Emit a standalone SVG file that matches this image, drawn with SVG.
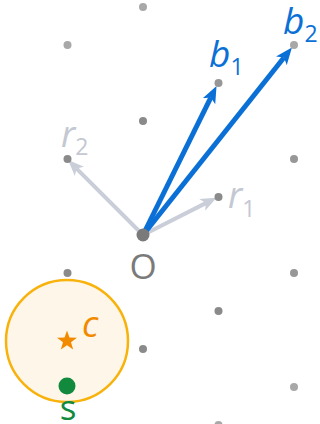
<svg xmlns="http://www.w3.org/2000/svg" width="320" height="424" viewBox="0 0 320 424">
<style>
text{font-family:"Open Sans","Noto Sans","DejaVu Sans",sans-serif;}
.pt{fill:#8a8a8a;}
.pt2{fill:#979797;}
.pt3{fill:#a8a8a8;}
.blue{stroke:#0b70d6;stroke-width:5;fill:none;}
.gray{stroke:#c9ced9;stroke-width:4;fill:none;}
.lb{fill:#0b70d6;font-size:37px;}
.lg{fill:#c3c8d2;font-size:36px;}
.sub{font-size:23px;font-style:normal;}
</style>
<defs>
<marker id="hb" viewBox="0 0 16 13" refX="4" refY="6.5" markerUnits="strokeWidth" markerWidth="3.4" markerHeight="2.76" orient="auto"><path d="M0,0 L16,6.5 L0,13 L4,6.5 z" fill="#0b70d6"/></marker>
<marker id="hg" viewBox="0 0 16 13" refX="4" refY="6.5" markerUnits="strokeWidth" markerWidth="4" markerHeight="3.25" orient="auto"><path d="M0,0 L16,6.5 L0,13 L4,6.5 z" fill="#c9ced9"/></marker>
</defs>
<g id="region">
<circle cx="67" cy="341" r="61" fill="#fef6e8" stroke="#f8b20c" stroke-width="2.5"/>
</g>
<g id="connectors">
<line class="gray" x1="143" y1="235" x2="205.8" y2="203.1" marker-end="url(#hg)"/>
<line class="gray" x1="143" y1="235" x2="76.6" y2="168.6" marker-end="url(#hg)"/>
<line class="blue" x1="143" y1="235" x2="210.9" y2="97.4" marker-end="url(#hb)"/>
<line class="blue" x1="143" y1="235" x2="284.0" y2="57.5" marker-end="url(#hb)"/>
</g>
<g id="lattice">
<circle class="pt3" cx="143" cy="7" r="4"/>
<circle class="pt3" cx="67.5" cy="45" r="4"/>
<circle class="pt3" cx="294" cy="45" r="4"/>
<circle class="pt2" cx="218.5" cy="83" r="4"/>
<circle class="pt" cx="143" cy="121" r="4"/>
<circle class="pt" cx="67.5" cy="159" r="4"/>
<circle class="pt2" cx="294" cy="159" r="4"/>
<circle class="pt" cx="218.5" cy="197" r="4"/>
<circle class="pt" cx="67.5" cy="273" r="4"/>
<circle class="pt2" cx="294" cy="273" r="4"/>
<circle class="pt" cx="218.5" cy="311" r="4"/>
<circle class="pt" cx="143" cy="349" r="4"/>
<circle class="pt3" cx="294" cy="387" r="4"/>
<circle class="pt3" cx="218.5" cy="425" r="4"/>
</g>
<g id="O">
<circle cx="143" cy="235" r="6.5" fill="#7a7a7a"/>
<text x="143" y="279" text-anchor="middle" font-size="35" fill="#7a7a7a">O</text>
</g>
<g id="b1"><text class="lb" x="209" y="67"><tspan font-style="italic">b</tspan><tspan class="sub" dy="8">1</tspan></text></g>
<g id="b2"><text class="lb" x="283" y="34"><tspan font-style="italic">b</tspan><tspan class="sub" dy="8">2</tspan></text></g>
<g id="r1"><text class="lg" x="228" y="208"><tspan font-style="italic">r</tspan><tspan class="sub" dy="9">1</tspan></text></g>
<g id="r2"><text class="lg" x="61" y="147"><tspan font-style="italic">r</tspan><tspan class="sub" dy="8">2</tspan></text></g>
<g id="c">
<polygon points="67,330.5 69.47,337.6 76.99,337.76 70.99,342.3 73.17,349.49 67,345.2 60.83,349.49 63.01,342.3 57.01,337.76 64.53,337.6" fill="#f28a00"/>
<text x="82" y="337" font-size="36" font-style="italic" fill="#f28a00">c</text>
</g>
<g id="s">
<circle cx="67" cy="386" r="8.5" fill="#128a3e"/>
<text x="68" y="420" text-anchor="middle" font-size="35" fill="#128a3e">s</text>
</g>
</svg>
